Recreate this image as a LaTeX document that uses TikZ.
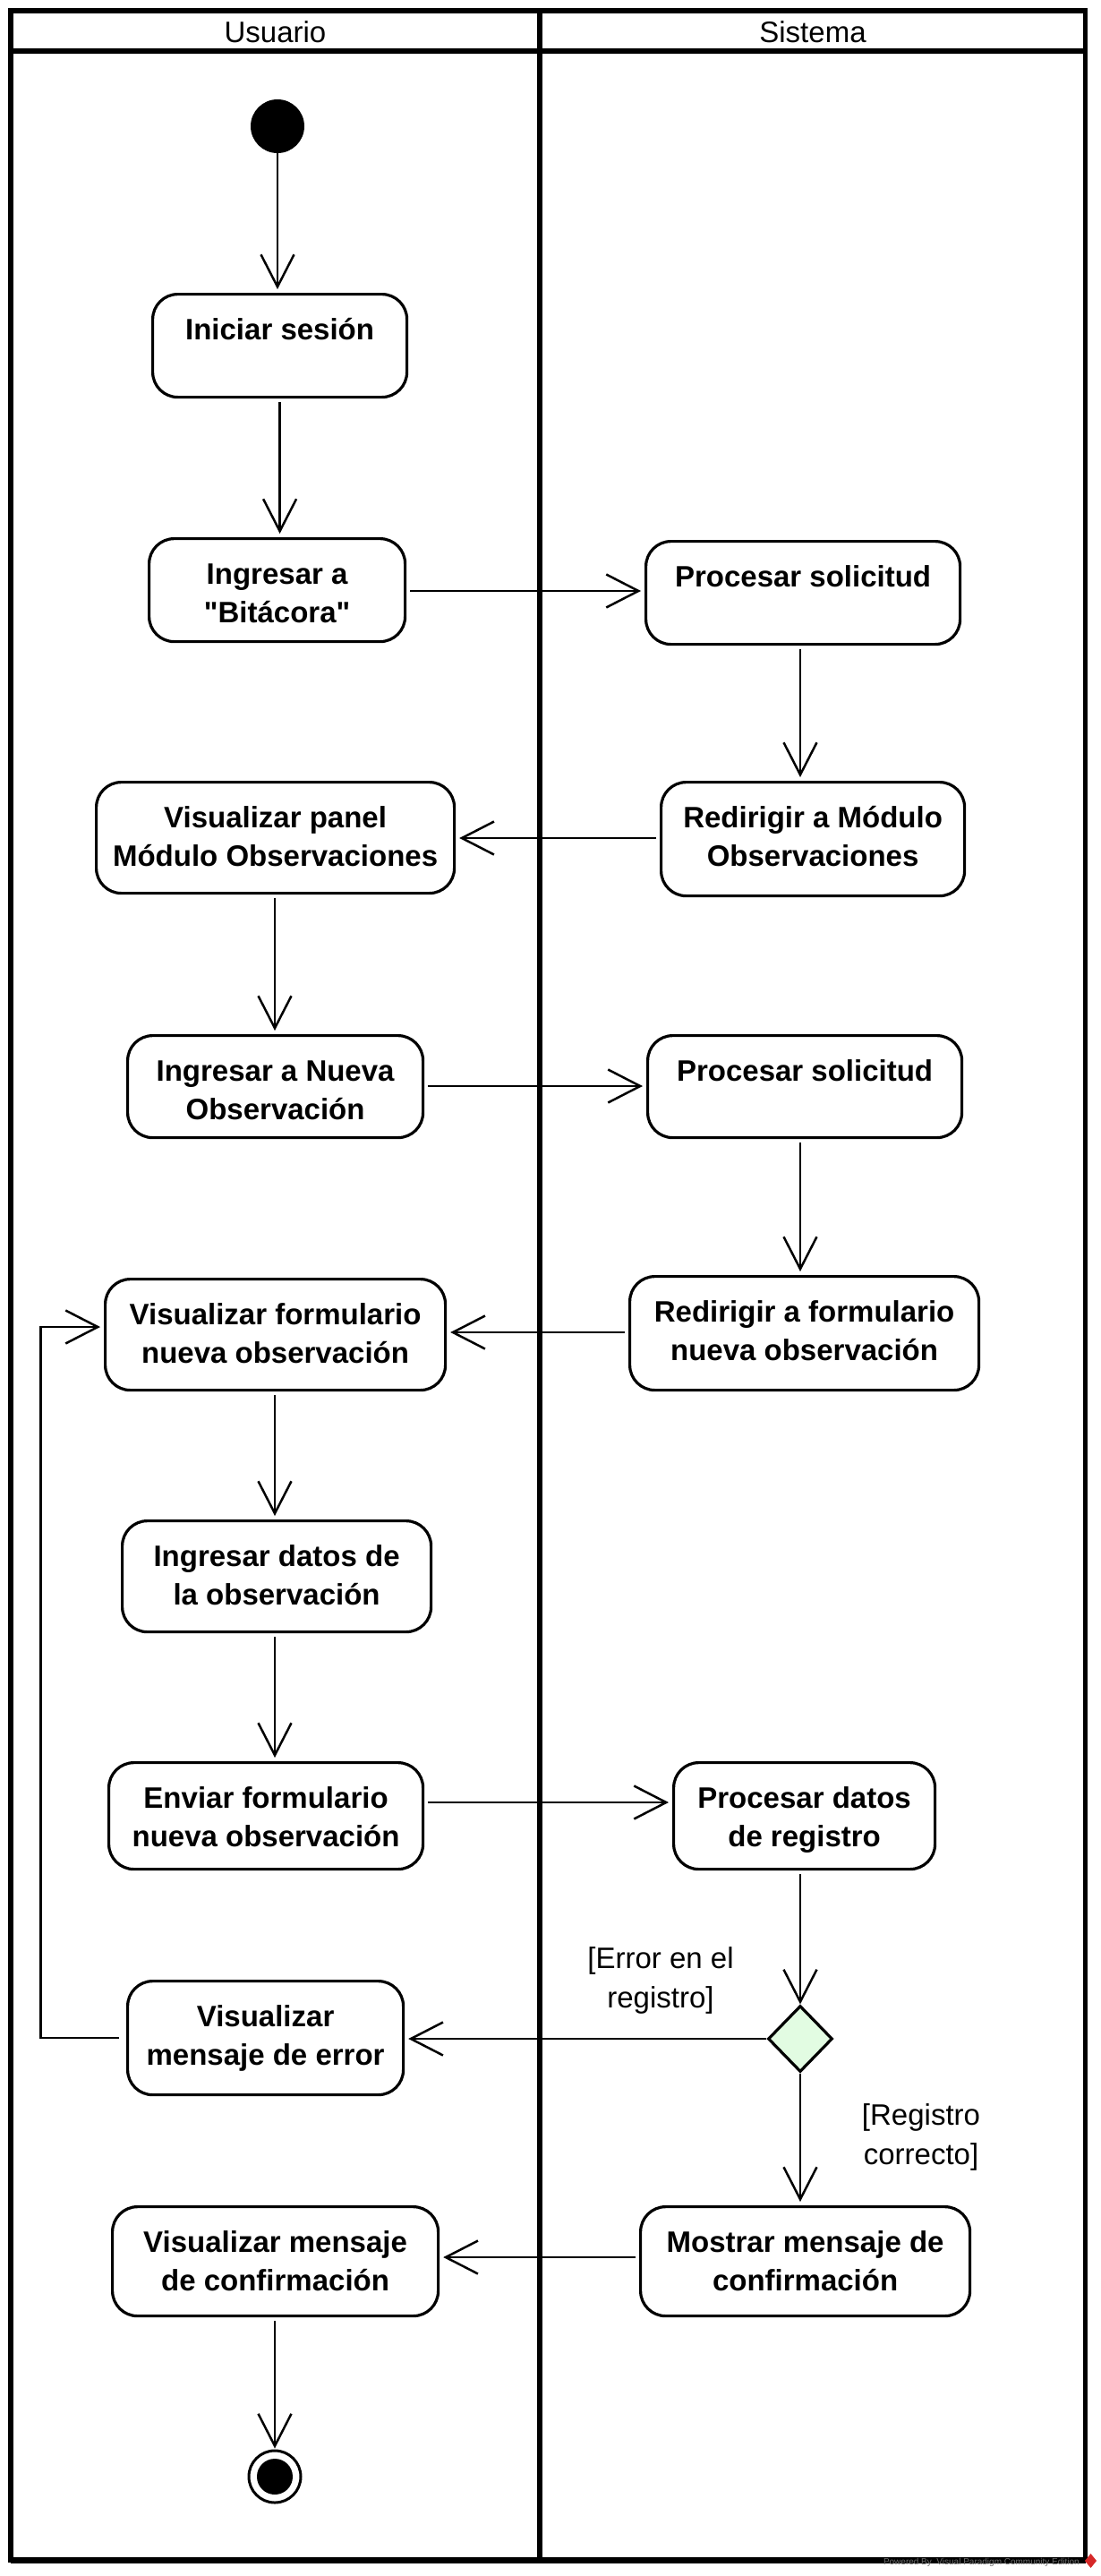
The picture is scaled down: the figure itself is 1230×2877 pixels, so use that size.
\documentclass[tikz,border=0pt]{standalone}
\usepackage{fontspec}
\setmainfont{Liberation Sans}[Ligatures=TeXOff]
\usetikzlibrary{arrows.meta,shapes.geometric,calc}
\newcommand\twol[1]{\begin{tabular}[t]{@{}c@{}}#1\end{tabular}}
\definecolor{decfill}{RGB}{226,252,226}
\definecolor{wmgray}{RGB}{110,110,110}
\definecolor{vpred}{RGB}{214,40,40}
\begin{document}
\begin{tikzpicture}[x=1pt,y=-1pt,
  act/.style={draw, line width=3.2pt, rounded corners=28pt, inner sep=0pt,
    anchor=north west, text height=51pt, font={\fontsize{33}{43}\selectfont\bfseries}},
  arr/.style={line width=2.5pt, -{Straight Barb[length=36pt,width=37pt]},
    shorten <=4pt, shorten >=4pt},
  lane/.style={line width=5.5pt},
  guard/.style={inner sep=0pt, anchor=base, font={\fontsize{33}{44}\selectfont}},
  head/.style={inner sep=0pt, anchor=base, font={\fontsize{33}{40}\selectfont}}]
\useasboundingbox (0,0) rectangle (1230,2877);
% swimlane frame
\draw[lane] (12,12) rectangle (1212.5,2859.5);
\draw[line width=7pt] (12,2859.5) -- (1212.5,2859.5);
\draw[lane] (12,57) -- (1212.5,57);
\draw[lane] (603,12) -- (603,2859.5);
\node[head] (hU) at (307.5,48) {Usuario};
\node[head] (hS) at (908,48) {Sistema};
% helper coordinates
\coordinate (colU) at (307,0);
\coordinate (colS) at (894,0);
\coordinate (rA) at (0,660);
\coordinate (rB) at (0,936);
\coordinate (rC) at (0,1213);
\coordinate (rD) at (0,1488);
\coordinate (rE) at (0,2013);
\coordinate (rF) at (0,2521);
\coordinate (loopTop) at (0,1482);
\coordinate (loopX) at (45.5,0);
% nodes
\node[circle, fill=black, minimum size=60pt, inner sep=0pt] (init) at (310,141) {};
\node[act, minimum width=284pt, minimum height=115pt, text depth=64pt] (iniciar) at (169,327) {\twol{Iniciar sesión}};
\node[act, minimum width=286pt, minimum height=115pt, text depth=64pt] (bitacora) at (165,600) {\twol{Ingresar a\\"Bitácora"}};
\node[act, minimum width=351pt, minimum height=115pt, text depth=64pt] (procA) at (720,603) {\twol{Procesar solicitud}};
\node[act, minimum width=339pt, minimum height=127pt, text depth=76pt] (redirMod) at (737,872) {\twol{Redirigir a Módulo\\Observaciones}};
\node[act, minimum width=400pt, minimum height=124pt, text depth=73pt] (visPanel) at (106,872) {\twol{Visualizar panel\\Módulo Observaciones}};
\node[act, minimum width=330pt, minimum height=114pt, text depth=63pt] (ingNueva) at (141,1155) {\twol{Ingresar a Nueva\\Observación}};
\node[act, minimum width=351pt, minimum height=114pt, text depth=63pt] (procB) at (722,1155) {\twol{Procesar solicitud}};
\node[act, minimum width=390pt, minimum height=127pt, text depth=76pt] (redirForm) at (702,1424) {\twol{Redirigir a formulario\\nueva observación}};
\node[act, minimum width=380pt, minimum height=124pt, text depth=73pt] (visForm) at (116,1427) {\twol{Visualizar formulario\\nueva observación}};
\node[act, minimum width=345pt, minimum height=124pt, text depth=73pt] (ingDatos) at (135,1697) {\twol{Ingresar datos de\\la observación}};
\node[act, minimum width=351pt, minimum height=119pt, text depth=68pt] (enviar) at (120,1967) {\twol{Enviar formulario\\nueva observación}};
\node[act, minimum width=292pt, minimum height=119pt, text depth=68pt] (procDatos) at (751,1967) {\twol{Procesar datos\\de registro}};
\node[diamond, draw, fill=decfill, line width=3.2pt, minimum width=72pt, minimum height=74pt, inner sep=0pt] (dec) at (894,2277) {};
\node[act, minimum width=308pt, minimum height=127pt, text depth=76pt] (visError) at (141,2211) {\twol{Visualizar\\mensaje de error}};
\node[act, minimum width=368pt, minimum height=122pt, text depth=71pt] (mostrar) at (714,2463) {\twol{Mostrar mensaje de\\confirmación}};
\node[act, minimum width=364pt, minimum height=122pt, text depth=71pt] (visConf) at (124,2463) {\twol{Visualizar mensaje\\de confirmación}};
\node[circle, draw, line width=3pt, minimum size=58pt, inner sep=0pt] (final) at (307,2766) {};
\node[circle, fill=black, minimum size=40pt, inner sep=0pt] (finalIn) at (final) {};
% guards
\node[guard] (gErr) at (738,2198) {\twol{[Error en el\\registro]}};
\node[guard] (gOk) at (1029,2373) {\twol{[Registro\\correcto]}};
% connectors
\draw[arr, shorten <=0pt] (init.south) -- (init.south |- iniciar.north);
\draw[arr] (iniciar.south) -- (iniciar.south |- bitacora.north);
\draw[arr] (bitacora.east |- rA) -- (procA.west |- rA);
\draw[arr] (procA.south -| colS) -- (redirMod.north -| colS);
\draw[arr] (redirMod.west |- rB) -- (visPanel.east |- rB);
\draw[arr] (visPanel.south -| colU) -- (ingNueva.north -| colU);
\draw[arr] (ingNueva.east |- rC) -- (procB.west |- rC);
\draw[arr] (procB.south -| colS) -- (redirForm.north -| colS);
\draw[arr] (redirForm.west |- rD) -- (visForm.east |- rD);
\draw[arr] (visForm.south -| colU) -- (ingDatos.north -| colU);
\draw[arr] (ingDatos.south -| colU) -- (enviar.north -| colU);
\draw[arr] (enviar.east |- rE) -- (procDatos.west |- rE);
\draw[arr, shorten >=0pt] (procDatos.south -| colS) -- (dec.north);
\draw[arr, shorten <=0pt] (dec.west) -- (visError.east |- dec.west);
\draw[arr, shorten <=0pt] (dec.south) -- (mostrar.north -| colS);
\draw[arr] (mostrar.west |- rF) -- (visConf.east |- rF);
\draw[arr, shorten >=1pt] (visConf.south -| colU) -- (final.north);
\draw[arr, shorten <=8pt, shorten >=4pt] (visError.west) -- (visError.west -| loopX) |- (visForm.west |- loopTop);
% watermark
\node[anchor=base east, inner sep=0pt, text=wmgray, font={\fontsize{10}{12}\selectfont}] (wm) at (1206,2864) {Powered By\ \ Visual Paradigm Community Edition};
\fill[vpred] (1218.5,2852) -- (1225,2860) -- (1218.5,2868) -- (1212,2860) -- cycle;
\end{tikzpicture}
\end{document}
